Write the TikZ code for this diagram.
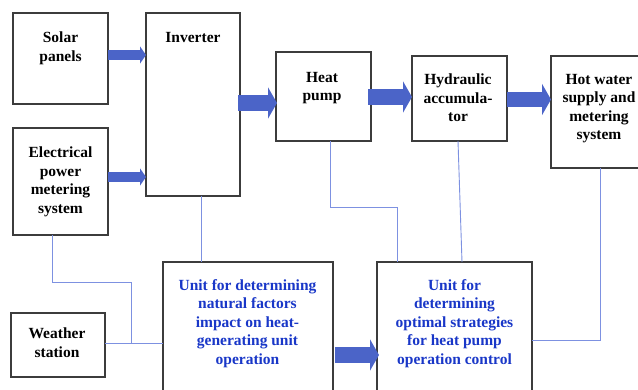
\documentclass[tikz,border=0pt]{standalone}
\usepackage{fontspec}
\setmainfont{Liberation Serif}
\usetikzlibrary{arrows.meta}
\definecolor{boxline}{RGB}{60,60,60}
\definecolor{thinblue}{RGB}{125,145,225}
\definecolor{arrowblue}{RGB}{75,100,200}
\definecolor{textblue}{RGB}{25,55,200}
\tikzset{
  box/.style={draw=boxline, line width=1.2pt, rectangle, inner sep=0pt, outer sep=0pt, anchor=north west},
  lbl/.style={anchor=north, align=center, inner sep=0pt, font=\fontsize{15.5}{18.5}\selectfont\bfseries},
  bluelbl/.style={lbl, text=textblue},
  wire/.style={draw=thinblue, line width=0.9pt},
  smallarr/.style={draw=arrowblue, line width=10pt, -{Triangle[width=17pt,length=6pt]}, arrowblue},
  bigarr/.style={draw=arrowblue, line width=15.5pt, -{Triangle[width=31pt,length=9pt]}, arrowblue},
}
\begin{document}
\begin{tikzpicture}[x=1pt,y=-1pt]
\useasboundingbox (0,0) rectangle (638,390);
\clip (0,0) rectangle (638,390);
\fill[white] (0,0) rectangle (638,390);
% boxes
\node[box, minimum width=95pt, minimum height=91pt] (sol) at (13,13) {};
\node[box, minimum width=95pt, minimum height=107pt] (elec) at (13,128) {};
\node[box, minimum width=94pt, minimum height=183pt] (inv) at (146,13) {};
\node[box, minimum width=95pt, minimum height=89pt] (hp) at (276,52) {};
\node[box, minimum width=95pt, minimum height=85pt] (hyd) at (412,56) {};
\node[box, minimum width=100pt, minimum height=112pt] (hw) at (551,56) {};
\node[box, minimum width=94pt, minimum height=64pt] (ws) at (11,313) {};
\node[box, minimum width=170pt, minimum height=140pt] (ua) at (163,262) {};
\node[box, minimum width=155pt, minimum height=140pt] (ub) at (377,262) {};
% texts
\node[lbl] (solT) at (60.5,32) {Solar\\panels};
\node[lbl] (invT) at (193,32) {Inverter};
\node[lbl] (elecT) at (60.5,147) {Electrical\\power\\metering\\system};
\node[lbl] (hpT) at (322,72) {Heat\\pump};
\node[lbl] (hydT) at (458,74) {Hydraulic\\accumula-\\tor};
\node[lbl] (hwT) at (599,74) {Hot water\\supply and\\metering\\system};
\node[lbl] (wsT) at (57,328) {Weather\\station};
\node[bluelbl] (uaT) at (247.5,279) {Unit for determining\\natural factors\\impact on heat-\\generating unit\\operation};
\node[bluelbl] (ubT) at (454.5,279) {Unit for\\determining\\optimal strategies\\for heat pump\\operation control};
% thin wires
\draw[wire] ([xshift=8pt]inv.south) -- ([xshift=8pt]inv.south |- ua.north);
\draw[wire] ([xshift=-8.5pt]elec.south) |- (131,282) -- (131,343);
\draw[wire] (ws.east |- 0,343) -- (ua.west |- 0,343);
\draw[wire] ([xshift=6.5pt]hp.south) |- (397,207) -- (397,262);
\draw[wire] ([xshift=-1.5pt]hyd.south) -- ([xshift=2.5pt]hyd.south |- ub.north);
\draw[wire] (hw.south -| 600,0) |- (ub.east |- 0,340);
% block arrows
\draw[smallarr] (sol.east |- 0,55) -- (inv.west |- 0,55);
\draw[smallarr] (elec.east |- 0,177) -- (inv.west |- 0,177);
\draw[bigarr] ([xshift=-2pt]inv.east |- 0,103) -- ([xshift=1pt]hp.west |- 0,103);
\draw[bigarr] ([xshift=-3pt]hp.east |- 0,97) -- (hyd.west |- 0,97);
\draw[bigarr] (hyd.east |- 0,99.5) -- (hw.west |- 0,99.5);
\draw[bigarr] ([xshift=2pt]ua.east |- 0,355) -- ([xshift=2pt]ub.west |- 0,355);
\end{tikzpicture}
\end{document}
